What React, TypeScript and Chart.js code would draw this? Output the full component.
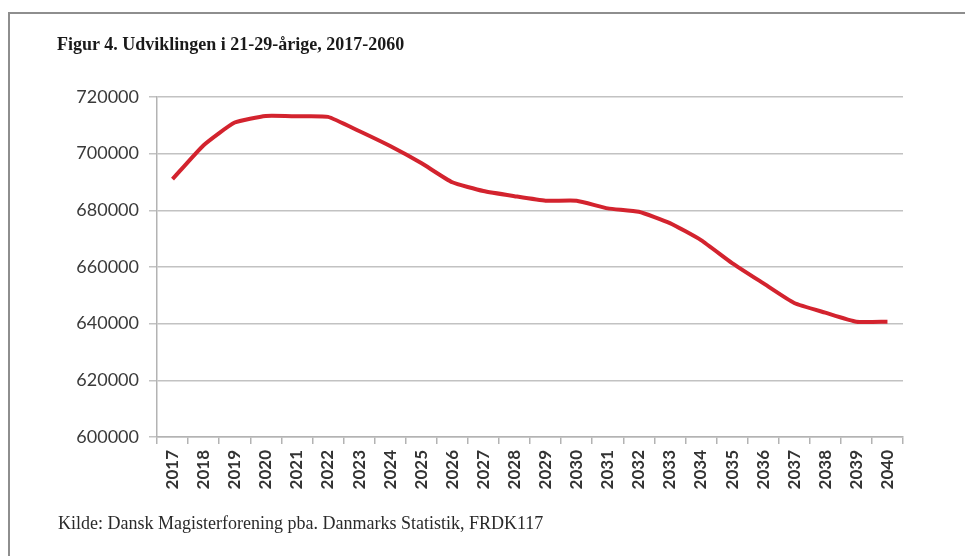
import React, { useEffect, useRef } from "react";
import { Chart, registerables } from "chart.js";

Chart.register(...registerables);

const years = [
  "2017", "2018", "2019", "2020", "2021", "2022", "2023", "2024", "2025", "2026", "2027", "2028",
  "2029", "2030", "2031", "2032", "2033", "2034", "2035", "2036", "2037", "2038", "2039", "2040",
];
const persons21to29 = [
  691000, 703000, 711000, 713300, 713200, 713000, 708000, 702700, 696700, 689900, 686800, 685000,
  683400, 683400, 680700, 679500, 675500, 669500, 661400, 654300, 647300, 643900, 640700, 640700,
];
const yMin = 600000;
const yMax = 720000;
const yStep = 20000;

const titleText = "Figur 4. Udviklingen i 21-29-årige, 2017-2060";
const sourceText = "Kilde: Dansk Magisterforening pba. Danmarks Statistik, FRDK117";

export default function App() {
  const canvasRef = useRef<HTMLCanvasElement | null>(null);

  useEffect(() => {
    if (!canvasRef.current) return;
    const chart = new Chart(canvasRef.current, {
      type: "line",
      data: {
        labels: years,
        datasets: [
          {
            data: persons21to29,
            borderColor: "#d3232e",
            borderWidth: 4,
            pointRadius: 0,
            tension: 0.15,
            fill: false,
          },
        ],
      },
      options: {
        animation: false,
        responsive: false,
        layout: { padding: { left: 0, right: 62, top: 97, bottom: 0 } },
        plugins: { legend: { display: false }, tooltip: { enabled: false } },
        scales: {
          x: {
            type: "category",
            offset: true,
            afterFit: (s: any) => {
              s.height = 119;
            },
            grid: {
              offset: true,
              drawOnChartArea: false,
              drawTicks: true,
              tickLength: 7,
              color: "#b3b3b3",
              lineWidth: 1.5,
            },
            border: { display: true, color: "#b3b3b3", width: 1.5 },
            ticks: {
              autoSkip: false,
              maxRotation: 90,
              minRotation: 90,
              padding: 6,
              color: "#333333",
              font: { family: "Lato", size: 17, weight: "bold" },
            },
          },
          y: {
            min: yMin,
            max: yMax,
            afterFit: (s: any) => {
              s.width = 157;
            },
            grid: {
              color: "#c2c2c2",
              lineWidth: 1.5,
              drawTicks: true,
              tickLength: 8,
            },
            border: { display: true, color: "#b3b3b3", width: 1.5 },
            ticks: {
              stepSize: yStep,
              padding: 10,
              color: "#3a3a3a",
              font: { family: "Lato", size: 18 },
              callback: (v: any) => String(v),
            },
          },
        },
      },
    });
    return () => chart.destroy();
  }, []);

  return (
    <div style={{ position: "fixed", left: 0, top: 0, width: 965, height: 556, background: "#fff", overflow: "hidden" }}>
      <div
        style={{
          position: "absolute",
          left: 8,
          top: 12,
          width: 1000,
          height: 600,
          borderTop: "2px solid #8e8e8e",
          borderLeft: "2px solid #8e8e8e",
        }}
      />
      <canvas ref={canvasRef} width={965} height={556} style={{ position: "absolute", left: 0, top: 0 }} />
      <div
        style={{
          position: "absolute",
          left: 57,
          top: 33,
          fontFamily: "'Liberation Serif', serif",
          fontWeight: "bold",
          fontSize: 18,
          lineHeight: "22px",
          color: "#1a1a1a",
          whiteSpace: "nowrap",
        }}
      >
        {titleText}
      </div>
      <div
        style={{
          position: "absolute",
          left: 58,
          top: 512,
          fontFamily: "'Liberation Serif', serif",
          fontSize: 18,
          lineHeight: "22px",
          color: "#2a2a2a",
          whiteSpace: "nowrap",
        }}
      >
        {sourceText}
      </div>
    </div>
  );
}
